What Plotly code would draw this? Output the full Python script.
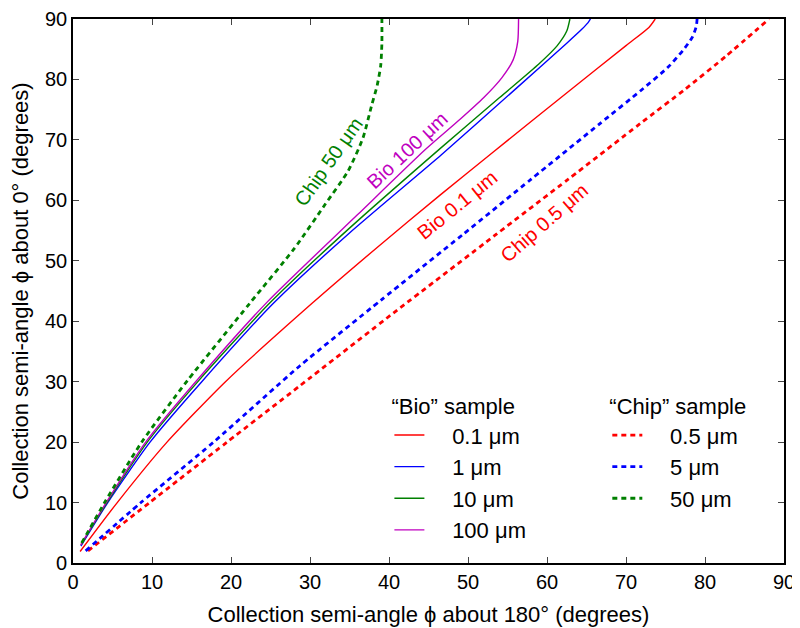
import plotly.graph_objects as go

# ---- data ----
bio01_x = [0.9, 5.6, 11.9, 19.3, 30.3, 38.5, 46.5, 53.2, 63.0, 70.0, 72.9, 73.7]
bio01_y = [1.9, 10, 20, 30, 43.0, 52.2, 60.9, 68.0, 78.3, 85.6, 88.6, 90]

bio1_x = [1.0, 4.4, 9.75, 16.3, 25.4, 35.0, 46.6, 56.0, 62.5, 64.4, 65.2, 65.5]
bio1_y = [2.8, 10, 20, 30, 43, 54.6, 67.5, 78.4, 86.0, 88.3, 89.4, 90]

bio10_x = [1.0, 4.3, 9.4, 16.0, 24.9, 35.0, 46.5, 54.0, 59.0, 61.3, 62.5, 62.9]
bio10_y = [3.0, 10, 20, 30.3, 43, 55.4, 68.6, 77.0, 82.6, 85.6, 88.0, 90]

bio100_x = [1.0, 4.2, 9.2, 15.8, 24.6, 36.0, 44.6, 49.0, 52.0, 54.3, 55.7, 56.3, 56.4]
bio100_y = [3.0, 10, 20, 30.4, 43.2, 57.6, 68.4, 73.4, 77.0, 80.3, 83.2, 86.3, 90]

chip05_x = [1.9, 9.7, 19.5, 28.7, 41.0, 53.6, 62.7, 71.8, 77.5, 82.7, 88.1]
chip05_y = [2.0, 10, 20, 29.3, 41.8, 54.4, 63.5, 72.7, 78.4, 83.9, 90]

chip5_x = [1.6, 8.6, 17.8, 28.7, 39.0, 49.4, 58.0, 66.7, 72.0, 75.3, 77.2, 78.4, 78.9, 79.0]
chip5_y = [2.0, 10, 20, 32.6, 43.5, 54.4, 63.5, 72.7, 78.3, 82.0, 84.8, 87.0, 88.8, 90]

chip50_x = [1.1, 4.0, 8.7, 14.5, 22.4, 28.0, 31.9, 34.8, 36.7, 37.8, 38.5, 38.95, 39.1, 39.1]
chip50_y = [3.3, 10, 20, 30.2, 43, 52, 59.3, 64.8, 70.3, 75.7, 79.0, 82.3, 86.0, 90]

bio_names = ["0.1 μm", "1 μm", "10 μm", "100 μm"]
chip_names = ["0.5 μm", "5 μm", "50 μm"]
x_ticks = [0, 10, 20, 30, 40, 50, 60, 70, 80, 90]
y_ticks = [0, 10, 20, 30, 40, 50, 60, 70, 80, 90]

RED, BLUE, GREEN, MAG = "#ff0000", "#0000ff", "#008000", "#bf00bf"
FONT = "Liberation Sans, Arial, Helvetica, sans-serif"
PAD = "\u00a0\u00a0\u00a0\u2009"

fig = go.Figure()

bio = [(bio01_x, bio01_y, RED), (bio1_x, bio1_y, BLUE),
       (bio10_x, bio10_y, GREEN), (bio100_x, bio100_y, MAG)]
for (xs, ys, c), nm in zip(bio, bio_names):
    fig.add_trace(go.Scatter(x=xs, y=ys, mode="lines", name=PAD + nm,
                             line=dict(color=c, width=1.4, shape="spline", smoothing=0.6),
                             legend="legend", legendgroup="b" + nm))

chip = [(chip05_x, chip05_y, RED), (chip5_x, chip5_y, BLUE), (chip50_x, chip50_y, GREEN)]
for (xs, ys, c), nm in zip(chip, chip_names):
    fig.add_trace(go.Scatter(x=xs, y=ys, mode="lines", name=PAD + nm,
                             line=dict(color=c, width=2.8, dash="5px,4px", shape="spline", smoothing=0.6),
                             legend="legend2", legendgroup="c" + nm))

labels = [
    ("Chip 50 μm", 32.3, 66.4, -55, GREEN),
    ("Bio 100 μm", 42.3, 68.4, -43, MAG),
    ("Bio 0.1 μm", 48.6, 59.3, -39, RED),
    ("Chip 0.5 μm", 59.6, 56.3, -41, RED),
]
for t, x, y, a, c in labels:
    fig.add_annotation(x=x, y=y, text=t, textangle=a, showarrow=False,
                       font=dict(color=c, size=20, family=FONT))

axis_common = dict(showline=True, linecolor="black", linewidth=1.6, mirror="ticks",
                   ticks="inside", ticklen=6, tickcolor="#444", tickwidth=1,
                   showgrid=False, zeroline=False, automargin=False,
                   ticklabeloverflow="allow",
                   tickfont=dict(size=20, family=FONT, color="black"))

fig.update_layout(
    width=800, height=628,
    margin=dict(l=65, r=24, t=11, b=73),
    plot_bgcolor="white", paper_bgcolor="white",
    font=dict(family=FONT, size=20, color="black"),
    xaxis=dict(range=[0, 90], tickvals=x_ticks,
               title=dict(text="Collection semi-angle ϕ about 180° (degrees)", font=dict(size=22)),
               **axis_common),
    yaxis=dict(range=[0, 90], tickvals=y_ticks,
               title=dict(text="Collection semi-angle ϕ about 0° (degrees)", font=dict(size=22)),
               **axis_common),
    legend=dict(x=0.445, y=0.326, xanchor="left", yanchor="top",
                title=dict(text="“Bio” sample", font=dict(size=22)),
                font=dict(size=22), bgcolor="rgba(0,0,0,0)", tracegroupgap=0,
                itemwidth=30),
    legend2=dict(x=0.7515, y=0.326, xanchor="left", yanchor="top",
                 title=dict(text="“Chip” sample", font=dict(size=22)),
                 font=dict(size=22), bgcolor="rgba(0,0,0,0)", tracegroupgap=0,
                 itemwidth=30),
    showlegend=True,
)

fig.write_html("out.html")
